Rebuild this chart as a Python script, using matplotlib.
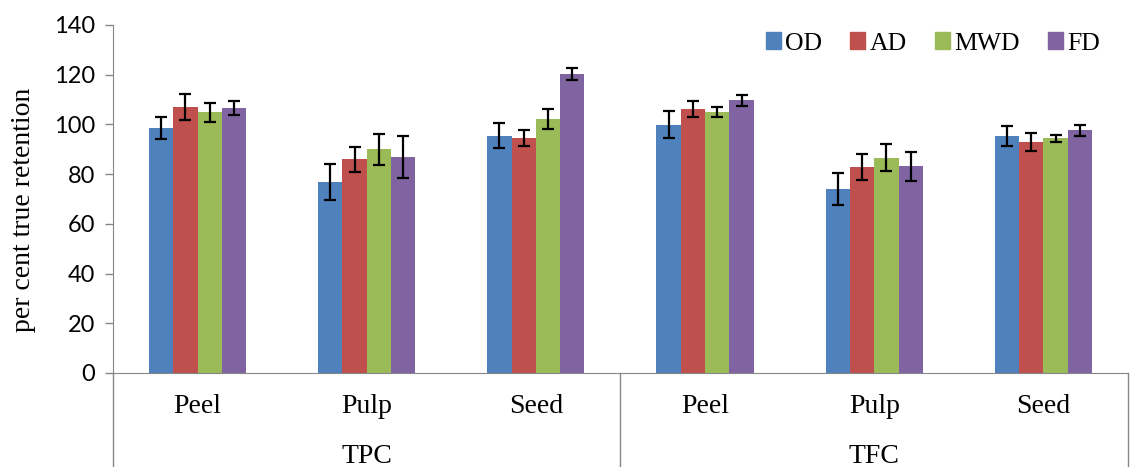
import matplotlib
matplotlib.use("Agg")
import matplotlib.pyplot as plt
import matplotlib.transforms as mtransforms
from matplotlib.patches import Patch
import numpy as np

# data
parts = ['Peel', 'Pulp', 'Seed', 'Peel', 'Pulp', 'Seed']
groups = ['TPC', 'TFC']
methods = ['OD', 'AD', 'MWD', 'FD']

od = [98.6, 76.8, 95.5, 99.8, 74.1, 95.3]
ad = [107.1, 86.0, 94.4, 106.3, 82.9, 93.0]
mwd = [104.9, 90.0, 102.2, 105.0, 86.6, 94.4]
fd = [106.5, 86.9, 120.3, 109.7, 83.1, 97.6]

od_err = [4.5, 7.4, 5.0, 5.4, 6.4, 4.0]
ad_err = [5.2, 5.0, 3.2, 3.2, 5.2, 3.5]
mwd_err = [3.9, 6.3, 3.9, 1.9, 5.4, 1.4]
fd_err = [2.8, 8.6, 2.3, 2.3, 5.9, 2.1]

colors = ['#4F81BD', '#C0504D', '#9BBB59', '#8064A2']
grey = '#868686'

fig = plt.figure(figsize=(11.41, 4.67), dpi=100)
ax = fig.add_axes([0.099, 0.2013, 0.8896, 0.7452])

x = np.arange(len(parts))
w = 0.1436
series = [od, ad, mwd, fd]
errs = [od_err, ad_err, mwd_err, fd_err]
for i, (vals, err) in enumerate(zip(series, errs)):
    pos = x + (i - 1.5) * w
    ax.bar(pos, vals, width=w, color=colors[i], edgecolor='none', label=methods[i])
    ax.errorbar(pos, vals, yerr=err, fmt='none', ecolor='black',
                elinewidth=1.6, capsize=4.5, capthick=1.6)

ax.set_xlim(-0.5, 5.5)
ax.set_ylim(0, 140)
ax.set_yticks(np.arange(0, 141, 20))
ax.tick_params(axis='y', direction='out', length=6, color=grey, width=1,
               labelsize=17, pad=7)
for lab in ax.get_yticklabels():
    lab.set_fontfamily('Lato')
ax.set_xticks([])
for s in ['top', 'right']:
    ax.spines[s].set_visible(False)
ax.spines['left'].set_color(grey)
ax.spines['bottom'].set_color(grey)

ax.set_ylabel('per cent true retention', family='Liberation Serif', fontsize=20, labelpad=8)
ax.yaxis.set_label_coords(-0.076, 0.47)

# multi-level category axis
trans = mtransforms.blended_transform_factory(ax.transData, ax.transAxes)
for xi, p in zip(x, parts):
    ax.text(xi, -0.095, p, transform=trans, ha='center', va='center',
            family='Liberation Serif', fontsize=20)
for gi, g in enumerate(groups):
    ax.text(1 + 3 * gi, -0.24, g, transform=trans, ha='center', va='center',
            family='Liberation Serif', fontsize=20)
for xs in [-0.5, 2.5, 5.5]:
    ax.plot([xs, xs], [0, -0.28], transform=trans, color=grey, lw=1, clip_on=False)

handles = [Patch(color=c) for c in colors]
ax.legend(handles, methods, loc='upper right', bbox_to_anchor=(0.995, 1.045), ncol=4,
          frameon=False, prop={'family': 'Liberation Serif', 'size': 18.5},
          handlelength=0.6, handleheight=0.6, handletextpad=0.15, columnspacing=1.1)

fig.savefig('out.png', dpi=100)
